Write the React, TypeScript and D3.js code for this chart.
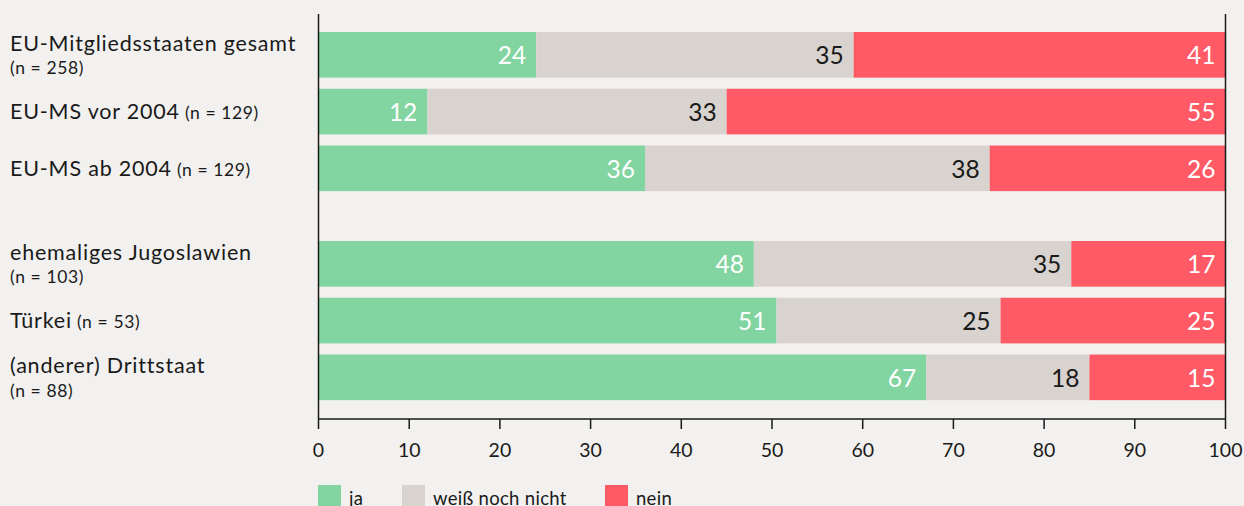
import React from "react";
import * as d3 from "d3";

const categories = [
  "EU-Mitgliedsstaaten gesamt",
  "EU-MS vor 2004",
  "EU-MS ab 2004",
  "ehemaliges Jugoslawien",
  "Türkei",
  "(anderer) Drittstaat",
];
const sampleSizes = ["(n = 258)", "(n = 129)", "(n = 129)", "(n = 103)", "(n = 53)", "(n = 88)"];
const inlineN = [false, true, true, false, true, false];
const groupIndex = [0, 0, 0, 1, 1, 1];
// segment widths (percent)
const jaValues = [24, 12, 36, 48, 50.5, 67];
const weissValues = [35, 33, 38, 35, 24.7, 18];
const neinValues = [41, 55, 26, 17, 24.8, 15];
// printed labels
const jaLabels = ["24", "12", "36", "48", "51", "67"];
const weissLabels = ["35", "33", "38", "35", "25", "18"];
const neinLabels = ["41", "55", "26", "17", "25", "15"];
const seriesNames = ["ja", "weiß noch nicht", "nein"];
const seriesColors = ["#82d4a0", "#d8d3ce", "#ff5a65"];
const labelColors = ["#ffffff", "#1a1a1a", "#ffffff"];
const xTicks = [0, 10, 20, 30, 40, 50, 60, 70, 80, 90, 100];

const W = 1244;
const H = 506;
const FONT = "Lato, 'Open Sans', sans-serif";
const INK = "#1a1a1a";

export default function App() {
  const x = d3.scaleLinear().domain([0, 100]).range([318.5, 1225.5]);
  const y = d3
    .scaleBand<number>()
    .domain(d3.range(categories.length))
    .range([32, 32 + 329.4])
    .paddingInner(0.196)
    .paddingOuter(0);
  const groupGap = 38.75;
  const rowY = (i: number) => (y(i) as number) + groupIndex[i] * groupGap;
  const bh = y.bandwidth();

  const rows = categories.map((c, i) => {
    const vals = [jaValues[i], weissValues[i], neinValues[i]];
    const labs = [jaLabels[i], weissLabels[i], neinLabels[i]];
    let acc = 0;
    const segs = vals.map((v, k) => {
      const s = { k, v, lab: labs[k], x0: acc, x1: acc + v };
      acc += v;
      return s;
    });
    return { c, i, segs };
  });

  const axisY = 419;
  const top = 14;

  return (
    <svg width={W} height={H} style={{ display: "block", position: "absolute", left: 0, top: 0, background: "#f2f1ef" }}>
      <rect x={0} y={0} width={W} height={H} fill="#f2f1ef" />
      {rows.map((r) => {
        const yy = rowY(r.i);
        const cy = yy + bh / 2;
        return (
          <g key={r.c}>
            {r.segs.map((s) => (
              <rect
                key={s.k}
                x={x(s.x0)}
                y={yy}
                width={x(s.x1) - x(s.x0)}
                height={bh}
                fill={seriesColors[s.k]}
              />
            ))}
            {r.segs.map((s) => (
              <text
                key={"t" + s.k}
                x={x(s.x1) - 10}
                y={cy + 9.3}
                textAnchor="end"
                fontFamily={FONT}
                fontSize={24.5}
                fill={labelColors[s.k]}
              >
                {s.lab}
              </text>
            ))}
            {inlineN[r.i] ? (
              <text x={10} y={cy + 7.5} fontFamily={FONT} fontSize={21.5} letterSpacing={0.8} fill={INK}>
                {r.c}
                <tspan fontSize={17.5} letterSpacing={0.6}> {sampleSizes[r.i]}</tspan>
              </text>
            ) : (
              <g>
                <text x={10} y={cy - 4} fontFamily={FONT} fontSize={21.5} letterSpacing={0.8} fill={INK}>
                  {r.c}
                </text>
                <text x={10} y={cy + 19.5} fontFamily={FONT} fontSize={17.5} letterSpacing={0.6} fill={INK}>
                  {sampleSizes[r.i]}
                </text>
              </g>
            )}
          </g>
        );
      })}
      <line x1={x(0)} x2={x(0)} y1={top} y2={axisY} stroke={INK} strokeWidth={1.5} />
      <line x1={x(100)} x2={x(100)} y1={top} y2={axisY} stroke={INK} strokeWidth={1.5} />
      <line x1={x(0)} x2={x(100)} y1={axisY} y2={axisY} stroke={INK} strokeWidth={1.5} />
      {xTicks.map((t) => (
        <g key={t}>
          <line x1={x(t)} x2={x(t)} y1={axisY} y2={axisY + 10} stroke={INK} strokeWidth={1.5} />
          <text x={x(t)} y={457} textAnchor="middle" fontFamily={FONT} fontSize={19.5} fill={INK}>
            {t}
          </text>
        </g>
      ))}
      {seriesNames.map((n, k) => {
        const lx = [318, 402, 605][k];
        return (
          <g key={n}>
            <rect x={lx} y={485} width={23} height={23} fill={seriesColors[k]} />
            <text x={lx + 31} y={504.5} fontFamily={FONT} fontSize={18.5} letterSpacing={0.3} fill={INK}>
              {n}
            </text>
          </g>
        );
      })}
    </svg>
  );
}
